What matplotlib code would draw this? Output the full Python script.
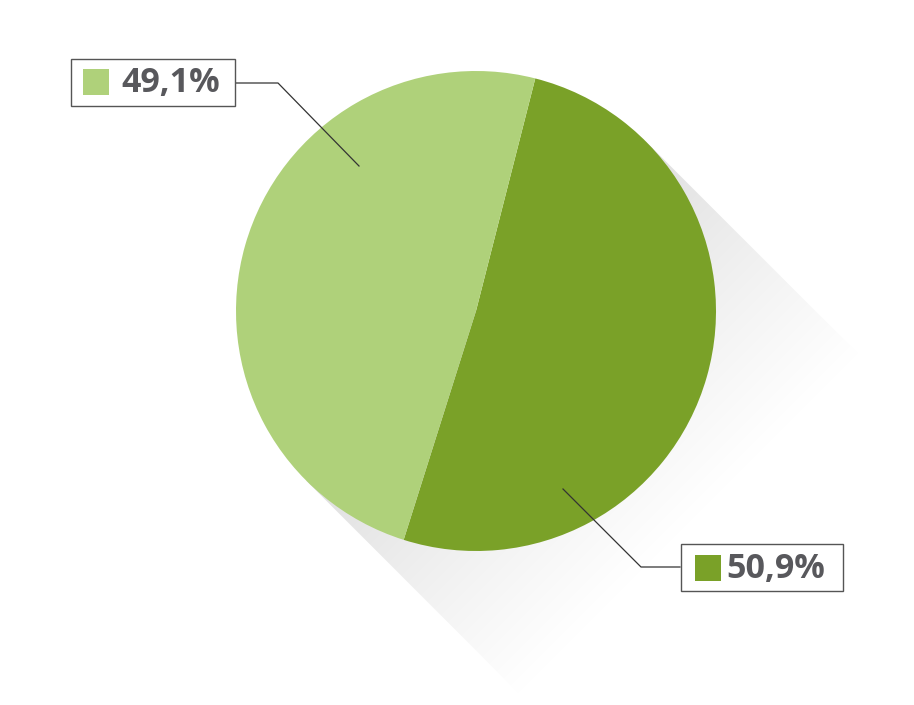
import numpy as np
import matplotlib
matplotlib.use("Agg")
import matplotlib.pyplot as plt
from matplotlib.patches import Polygon, Rectangle

# data
labels = ["50,9%", "49,1%"]
values = [50.9, 49.1]
colors = ["#7aa128", "#afd17a"]

W, H = 914, 705
fig = plt.figure(figsize=(W / 100, H / 100), dpi=100)
ax = fig.add_axes([0, 0, 1, 1])

cx, cy_img, R = 476, 311, 240
cy = H - cy_img

# long shadow (45 deg, down-right)
d = np.array([1.0, -1.0]) / np.sqrt(2)
n = np.array([1.0, 1.0]) / np.sqrt(2)
L = 300
P1 = np.array([cx, cy]) + R * n
P2 = np.array([cx, cy]) - R * n
poly = np.array([P1, P1 + L * d, P2 + L * d, P2])
xs = np.arange(0, W)
ys = np.arange(0, H)
X, Y = np.meshgrid(xs, ys)
t = ((X - cx) * d[0] + (Y - cy) * d[1]) / L
t = np.clip(t, 0, 1)
g0 = 0.865
val = g0 + (1 - g0) * t ** 0.85
img = np.dstack([val, val, val])
im = ax.imshow(img, extent=(0, W, 0, H), origin="lower", zorder=1,
               interpolation="bilinear")
clip = Polygon(poly, closed=True, transform=ax.transData)
im.set_clip_path(clip)

wedges, _ = ax.pie(values, colors=colors, startangle=75.7, counterclock=False,
                   center=(cx, cy), radius=R, frame=True,
                   wedgeprops=dict(linewidth=0, zorder=2))
for w in wedges:
    w.set_zorder(2)

ax.set_xlim(0, W)
ax.set_ylim(0, H)
ax.set_aspect("equal")
ax.axis("off")

def Y_(y):
    return H - y

linec = "#333333"
# leader lines
ax.plot([235, 278, 359], [Y_(83), Y_(83), Y_(166)], color=linec, lw=0.9, zorder=3)
ax.plot([563, 641, 680], [Y_(489), Y_(567), Y_(567)], color=linec, lw=0.9, zorder=3)

txtc = "#58585c"
boxes = [
    # (x0, y0, x1, y1, square x, square y, text x, label idx)
    (70.5, 58.5, 235, 105.5, 83, 69, 121, 1),
    (680.5, 543.5, 842.5, 590.5, 695, 555, 726, 0),
]
for x0, y0, x1, y1, sx, sy, tx, i in boxes:
    ax.add_patch(Rectangle((x0, Y_(y1)), x1 - x0, y1 - y0, facecolor="white",
                           edgecolor="#555555", lw=1.0, zorder=4))
    ax.add_patch(Rectangle((sx, Y_(sy + 26)), 26, 26, facecolor=colors[i],
                           edgecolor="none", zorder=5))
    ax.text(tx, Y_(y0 + 34), labels[i], fontsize=24.5, fontweight="bold",
            family="Open Sans", color=txtc, va="baseline", ha="left", zorder=5)

fig.savefig("out.png", dpi=100, facecolor="white")
